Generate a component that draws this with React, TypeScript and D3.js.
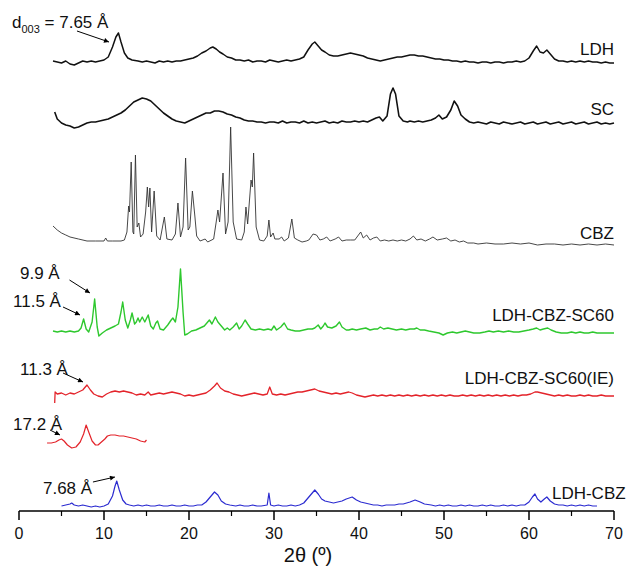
import React from "react";
import * as d3 from "d3";

type P = [number, number];

const xTicks = [0, 10, 20, 30, 40, 50, 60, 70];
const xMinorTicks = [5, 15, 25, 35, 45, 55, 65];

const ldh: P[] = [[4,1],[4.5,0],[5,-1],[5.5,1],[6,-2],[6.5,-3],[7,-1],[7.5,1],[8,0],[8.5,1],[9,0],[9.5,1],[10,2],[10.5,5],[11,15],[11.4,25],[11.7,29],[12,20],[12.4,9],[12.8,4],[13.3,2],[14,1],[14.5,0],[15,1],[15.5,0],[16,-1],[16.5,1],[17,0],[17.5,1],[18,0],[18.5,1],[19,1],[19.5,2],[20,3],[20.5,4],[21,6],[21.5,9],[22,11],[22.5,14],[22.8,15],[23.2,13],[23.6,10],[24,8],[24.5,5],[25,4],[25.5,2],[26,2],[26.5,1],[27,2],[27.5,0],[28,1],[28.5,1],[29,0],[29.5,2],[30,1],[30.5,0],[31,1],[31.5,2],[32,1],[32.5,2],[33,3],[33.5,5],[34,12],[34.5,18],[34.8,20],[35.2,16],[35.6,12],[36,10],[36.5,7],[37,6],[37.5,6],[38,7],[38.5,8],[39,9],[39.5,8],[40,7],[40.5,6],[41,4],[41.5,3],[42,2],[42.5,1],[43,2],[43.5,3],[44,4],[44.5,5],[45,5],[45.5,6],[46,7],[46.5,7],[47,6],[47.5,6],[48,5],[48.5,4],[49,3],[49.5,3],[50,2],[50.5,2],[51,1],[51.5,1],[52,0],[52.5,1],[53,0],[53.5,0],[54,-1],[54.5,0],[55,0],[55.5,-1],[56,0],[56.5,0],[57,-1],[57.5,0],[58,0],[58.5,1],[59,0],[59.5,1],[60,4],[60.5,11],[60.9,16],[61.3,10],[61.7,9],[62.1,12],[62.5,8],[63,3],[63.5,1],[64,1],[64.5,0],[65,1],[65.5,0],[66,1],[66.5,0],[67,1],[67.5,0],[68,0],[68.5,-1],[69,0],[69.5,-1],[70,-1]];

const sc: P[] = [[4.2,12],[4.5,5],[5,1],[5.5,-1],[6,-2],[6.5,-4],[7,-3],[7.5,-1],[8,1],[8.5,2],[9,2],[9.5,3],[10,4],[10.5,5],[11,7],[11.5,9],[12,11],[12.5,14],[13,18],[13.5,22],[14,24],[14.5,26],[15,25],[15.5,23],[16,19],[16.5,15],[17,11],[17.5,8],[18,5],[18.5,3],[19,2],[19.5,1],[20,3],[20.5,5],[21,7],[21.5,9],[22,11],[22.5,11],[23,13],[23.5,13],[24,12],[24.5,10],[25,9],[25.5,7],[26,6],[26.5,4],[27,3],[27.5,3],[28,2],[28.5,2],[29,1],[29.5,2],[30,2],[30.5,1],[31,3],[31.5,1],[32,2],[32.5,2],[33,1],[33.5,3],[34,1],[34.5,2],[35,1],[35.5,2],[36,3],[36.5,1],[37,2],[37.5,1],[38,3],[38.5,2],[39,2],[39.5,3],[40,2],[40.5,3],[41,2],[41.5,4],[42,6],[42.4,7],[42.8,3],[43.3,8],[43.7,30],[44,36],[44.3,30],[44.7,8],[45.2,3],[45.7,2],[46,3],[46.5,2],[47,3],[47.5,2],[48,3],[48.5,4],[49,6],[49.4,9],[49.8,5],[50.3,7],[50.8,14],[51.2,23],[51.6,18],[52,9],[52.5,5],[53,2],[53.5,1],[54,2],[54.5,1],[55,0],[55.5,2],[56,1],[56.5,0],[57,2],[57.5,1],[58,0],[58.5,1],[59,2],[59.5,0],[60,1],[60.5,2],[61,0],[61.5,1],[62,2],[62.5,0],[63,1],[63.5,2],[64,0],[64.5,1],[65,2],[65.5,0],[66,1],[66.5,2],[67,0],[67.5,1],[68,2],[68.5,0],[69,1],[69.5,0],[70,1]];

const cbz: P[] = [[4,16],[4.5,12],[5,9],[5.5,7],[6,5],[7,3],[8,1],[9,1],[10,1],[10.2,4],[10.4,1],[11,1],[12,1],[12.4,2],[12.7,10],[12.9,36],[13.0,30],[13.2,80],[13.4,10],[13.5,8],[13.7,87],[13.9,15],[14.1,19],[14.3,5],[14.6,8],[14.9,30],[15.1,55],[15.25,35],[15.4,54],[15.6,10],[15.9,51],[16.2,6],[16.6,2],[17.1,25],[17.4,3],[18,2],[18.4,8],[18.7,39],[19.0,5],[19.3,15],[19.6,84],[19.9,12],[20.1,15],[20.4,51],[20.7,25],[20.9,6],[21.3,1],[21.9,3],[22.2,0],[22.9,3],[23.2,20],[23.4,32],[23.6,20],[24.0,69],[24.3,8],[24.6,20],[24.9,115],[25.2,20],[25.6,3],[26.2,2],[26.5,10],[26.7,35],[26.9,18],[27.1,40],[27.3,62],[27.45,55],[27.6,89],[27.9,15],[28.3,2],[28.8,1],[29.2,6],[29.4,22],[29.6,5],[29.9,9],[30.1,3],[30.6,3],[30.9,5],[31.2,1],[31.7,4],[32.1,23],[32.4,4],[32.8,2],[33.3,0],[33.8,1],[34.1,2],[34.6,8],[35.0,7],[35.4,2],[35.8,3],[36.2,5],[36.6,1],[37.2,3],[37.6,5],[38,1],[38.5,2],[39,2],[39.5,2],[40.2,10],[40.5,4],[40.9,7],[41.3,2],[41.7,4],[42.1,5],[42.5,1],[43,2],[43.5,1],[44,2],[44.5,1],[45,2],[45.5,1],[46,3],[46.4,6],[46.8,2],[47.3,3],[47.8,1],[48.3,3],[48.7,5],[49.2,2],[49.8,3],[50.3,4],[50.8,1],[51.3,2],[51.8,0],[52.3,1],[52.8,-1],[53.5,-1],[54,-2],[55,-1],[56,-2],[57,-2],[58,-1],[59,-2],[60,-1],[61,-3],[62,-2],[63,-2],[64,-3],[65,-2],[66,-3],[67,-2],[68,-3],[69,-2],[70,-3]];

const sc60: P[] = [[4,1],[4.5,0],[5,1],[5.5,0],[6,1],[6.5,0],[7,1],[7.3,4],[7.6,13],[7.9,3],[8.2,0],[8.6,10],[8.9,33],[9.2,5],[9.4,-4],[9.8,-1],[10.3,2],[10.8,4],[11.3,6],[11.7,8],[12.0,20],[12.2,30],[12.5,12],[12.8,4],[13.1,12],[13.3,19],[13.6,8],[13.8,10],[14.0,14],[14.2,10],[14.5,15],[14.8,10],[15.2,17],[15.5,6],[15.8,3],[16.1,9],[16.3,11],[16.6,3],[17.0,2],[17.5,7],[17.9,12],[18.1,14],[18.4,10],[18.7,25],[19.0,63],[19.3,20],[19.5,-3],[19.8,-2],[20.3,1],[20.8,2],[21.3,4],[21.8,6],[22.1,9],[22.4,12],[22.7,8],[23.1,15],[23.4,10],[23.8,6],[24.2,2],[24.5,4],[24.8,2],[25.2,5],[25.6,9],[25.9,3],[26.2,6],[26.6,12],[26.9,8],[27.3,3],[27.8,2],[28.3,3],[28.8,2],[29.3,3],[29.7,2],[30.0,6],[30.3,2],[30.8,5],[31.2,9],[31.6,3],[32.0,2],[32.5,1],[33.0,1],[33.5,2],[34.0,3],[34.5,3],[34.8,4],[35.2,7],[35.5,3],[35.8,6],[36.0,9],[36.3,5],[36.8,4],[37.3,6],[37.7,10],[38.0,5],[38.5,2],[38.8,2],[39.2,3],[39.7,2],[40.2,3],[40.8,4],[41.3,2],[41.8,3],[42.2,3],[42.5,5],[42.9,3],[43.4,4],[43.9,3],[44.4,2],[45,3],[45.5,2],[46,3],[46.5,3],[46.8,4],[47.2,2],[47.7,2],[48.2,1],[48.8,0],[49.4,-1],[49.9,-3],[50.4,-1],[51,0],[51.5,-1],[52,0],[52.5,1],[53,0],[53.5,-1],[54.2,-1],[54.8,0],[55.3,1],[55.8,0],[56.4,1],[57,0],[57.6,1],[58.2,0],[58.8,0],[59.4,1],[60,2],[60.5,3],[60.9,4],[61.3,2],[61.7,3],[62.2,4],[62.6,2],[63.2,0],[63.8,-1],[64.5,-1],[65,0],[65.5,-1],[66,0],[66.5,-1],[67,-1],[67.5,0],[68,-1],[68.5,-1],[69,-1],[69.5,-1],[70,-1]];

const ie: P[] = [[4.2,-9],[4.25,2],[4.5,0],[5,1],[5.5,-1],[6,1],[6.5,0],[7,2],[7.5,4],[8,9],[8.4,4],[8.8,0],[9.3,-2],[9.8,-3],[10.3,0],[10.8,2],[11.3,3],[11.8,2],[12.3,3],[12.8,2],[13.3,1],[13.8,-1],[14.3,0],[14.8,-1],[15.2,2],[15.5,-1],[16,0],[16.5,1],[17,0],[17.5,1],[18,2],[18.5,1],[19,0],[19.5,-2],[20,-1],[20.5,-2],[21,-1],[21.5,0],[22,1],[22.5,4],[23,8],[23.3,11],[23.7,6],[24.2,3],[24.7,2],[25.2,0],[25.7,-1],[26.2,-2],[26.7,-1],[27.2,0],[27.7,1],[28.2,0],[28.7,-1],[29.2,0],[29.5,7],[29.8,0],[30.3,-1],[30.8,0],[31.3,-1],[31.8,0],[32.3,1],[32.8,2],[33.3,2],[33.8,3],[34.3,4],[34.8,5],[35.3,3],[35.8,2],[36.3,1],[36.8,0],[37.3,1],[37.8,0],[38.3,1],[38.8,2],[39.2,1],[39.7,-1],[40.2,-2],[40.7,-3],[41.2,-2],[41.7,-1],[42.2,-2],[42.7,-1],[43.2,-2],[43.7,-1],[44.2,-2],[44.7,-1],[45.2,-2],[45.7,-1],[46.2,-2],[46.7,-1],[47.2,-2],[47.7,-1],[48.2,-2],[48.7,-1],[49.2,-2],[49.7,-1],[50.2,-2],[50.7,-1],[51.2,-2],[51.7,-2],[52.2,-1],[52.7,-2],[53.2,-1],[53.7,-2],[54.2,-1],[54.7,-2],[55.2,-1],[55.7,-2],[56.2,-1],[56.7,-2],[57.2,-1],[57.7,-2],[58.2,-1],[58.7,-2],[59.2,-1],[59.7,-1],[60.2,0],[60.7,2],[61,2],[61.5,1],[62,0],[62.5,-1],[63,-2],[63.5,-1],[64,-2],[64.5,-1],[65,-2],[65.5,-2],[66,-1],[66.5,-2],[67,-1],[67.5,-2],[68,-2],[68.5,-1],[69,-2],[69.5,-2],[70,-2]];

const short172: P[] = [[3.3,1],[3.8,1],[4.3,2],[4.7,4],[5.0,5],[5.3,3],[5.7,-1],[6.2,-4],[6.7,-3],[7.2,2],[7.6,10],[7.9,19],[8.2,12],[8.6,3],[9.0,-1],[9.3,-1],[9.7,2],[10.1,5],[10.4,8],[10.8,9],[11.3,9],[11.8,8],[12.3,8],[12.8,7],[13.3,6],[13.8,5],[14.3,3],[14.8,2],[15.0,4]];

const ldhCbz: P[] = [[5,0],[5.5,1],[6,2],[6.2,3],[6.5,1],[7,0],[7.5,1],[8,0],[8.5,-1],[9,0],[9.5,-1],[10,0],[10.5,2],[11,10],[11.3,20],[11.5,25],[11.8,16],[12.2,6],[12.6,2],[13,1],[13.5,0],[14,1],[14.5,0],[15,1],[15.5,0],[16,0],[16.5,1],[17,0],[17.5,0],[18,1],[18.5,0],[19,0],[19.5,1],[20,0],[20.5,0],[21,1],[21.5,1],[22,4],[22.5,9],[23,14],[23.4,11],[23.8,5],[24.3,2],[24.8,1],[25.5,0],[26,1],[26.5,0],[27,0],[27.5,1],[28,0],[28.5,0],[29.2,1],[29.4,13],[29.6,1],[30,0],[30.5,1],[31,0],[31.5,0],[32,1],[32.5,0],[33,1],[33.5,3],[34,8],[34.5,13],[34.8,16],[35.2,12],[35.6,7],[36,5],[36.5,4],[37,3],[37.5,4],[38,5],[38.5,7],[39.2,9],[39.7,6],[40.2,4],[40.7,3],[41.2,2],[41.7,1],[42.2,1],[42.7,0],[43.2,1],[43.7,1],[44.2,1],[44.7,2],[45.2,2],[45.6,3],[46,4],[46.6,6],[47.2,4],[47.7,2],[48.5,1],[49,0],[49.5,1],[50,0],[50.5,1],[51,0],[51.5,0],[52,1],[52.5,0],[53,1],[53.5,0],[54,0],[54.5,1],[55,0],[55.5,1],[56,0],[56.5,0],[57,1],[57.5,0],[58,1],[58.5,0],[59,1],[59.5,1],[60,4],[60.4,9],[60.7,12],[61,7],[61.4,4],[61.8,7],[62.1,9],[62.5,5],[63,2],[63.5,1],[64,1],[64.5,0],[65,1],[65.5,0],[66,1],[66.5,0],[67,1],[67.5,0],[68,0]];

const seriesNames = ["LDH", "SC", "CBZ", "LDH-CBZ-SC60", "LDH-CBZ-SC60(IE)", "", "LDH-CBZ"];
const seriesData = [ldh, sc, cbz, sc60, ie, short172, ldhCbz];
const seriesOffsets = [449, 387, 269, 179, 117, 67, 5];
const seriesColors = ["#111111", "#111111", "#333333", "#2ec82e", "#e3232a", "#e3232a", "#2b2bd0"];
const seriesWidths = [1.5, 1.6, 0.9, 1.4, 1.3, 1.2, 1.2];
// label anchor positions: [theta, value, anchor]
const labelPos: [number, number, string][] = [
  [70, 456, "end"], [70, 396, "end"], [70, 272, "end"], [70, 190, "end"],
  [70, 127, "end"], [0, 0, "end"], [62.7, 12, "start"],
];

// annotations: text, text theta, text value, arrow from (theta,value) to (theta,value)
const annText = ["9.9 Å", "11.5 Å", "11.3 Å", "17.2 Å", "7.68 Å"];
const annTextPos: P[] = [[0.12, 232], [-0.7, 204], [0.12, 136], [-0.7, 81], [2.82, 17]];
const annFrom: P[] = [[5.94, 231], [5.18, 204], [5.18, 138], [3.65, 81], [8.7, 29], [6.82, 480]];
const annTo: P[] = [[8.35, 218], [7.18, 196], [7.53, 129], [4.82, 76], [11.29, 34], [10.59, 469]];

const W = 627, H = 566;
const FONT = "Arial, 'Liberation Sans', Helvetica, sans-serif";

export default function App() {
  const x = d3.scaleLinear().domain([0, 70]).range([19, 614]);
  const y = d3.scaleLinear().domain([0, 500]).range([511, 11]);
  const axisY = y(0);

  return (
    <svg width={W} height={H} style={{ position: "absolute", left: 0, top: 0, background: "#fff" }}
      fontFamily={FONT}>
      <defs>
        <marker id="ah" viewBox="0 0 10 10" refX="10" refY="5" markerWidth="8" markerHeight="5"
          markerUnits="userSpaceOnUse" orient="auto">
          <path d="M0,0 L10,5 L0,10 z" fill="#000" />
        </marker>
      </defs>
      {seriesData.map((data, i) => {
        const line = d3.line<P>().x(d => x(d[0])).y(d => y(d[1] + seriesOffsets[i]));
        return <path key={i} d={line(data) || ""} fill="none" stroke={seriesColors[i]}
          strokeWidth={seriesWidths[i]} strokeLinejoin="round" />;
      })}
      {seriesNames.map((n, i) => n ? (
        <text key={"l" + i} x={x(labelPos[i][0])} y={y(labelPos[i][1])} textAnchor={labelPos[i][2] as any}
          fontSize={17} fill="#111">{n}</text>
      ) : null)}
      {/* d003 label */}
      <text x={x(-0.82)} y={y(483)} fontSize={17} fill="#111">
        d<tspan fontSize={11} dy={5}>003</tspan><tspan dy={-5}> = 7.65 Å</tspan>
      </text>
      {annText.map((t, i) => (
        <text key={"a" + i} x={x(annTextPos[i][0])} y={y(annTextPos[i][1])} fontSize={17} fill="#111">{t}</text>
      ))}
      {annFrom.map((f, i) => (
        <line key={"ar" + i} x1={x(f[0])} y1={y(f[1])} x2={x(annTo[i][0])} y2={y(annTo[i][1])}
          stroke="#000" strokeWidth={1} markerEnd="url(#ah)" />
      ))}
      {/* axis */}
      <line x1={x(0)} x2={x(70)} y1={axisY} y2={axisY} stroke="#000" strokeWidth={1.5} />
      {xTicks.map(t => (
        <g key={"t" + t}>
          <line x1={x(t)} x2={x(t)} y1={axisY} y2={axisY + 9} stroke="#000" strokeWidth={1.5} />
          <text x={x(t)} y={axisY + 28} textAnchor="middle" fontSize={16} fill="#111">{t}</text>
        </g>
      ))}
      {xMinorTicks.map(t => (
        <line key={"m" + t} x1={x(t)} x2={x(t)} y1={axisY} y2={axisY + 5} stroke="#000" strokeWidth={1.2} />
      ))}
      <text x={308} y={562} textAnchor="middle" fontSize={20} fill="#111">2θ (º)</text>
    </svg>
  );
}
